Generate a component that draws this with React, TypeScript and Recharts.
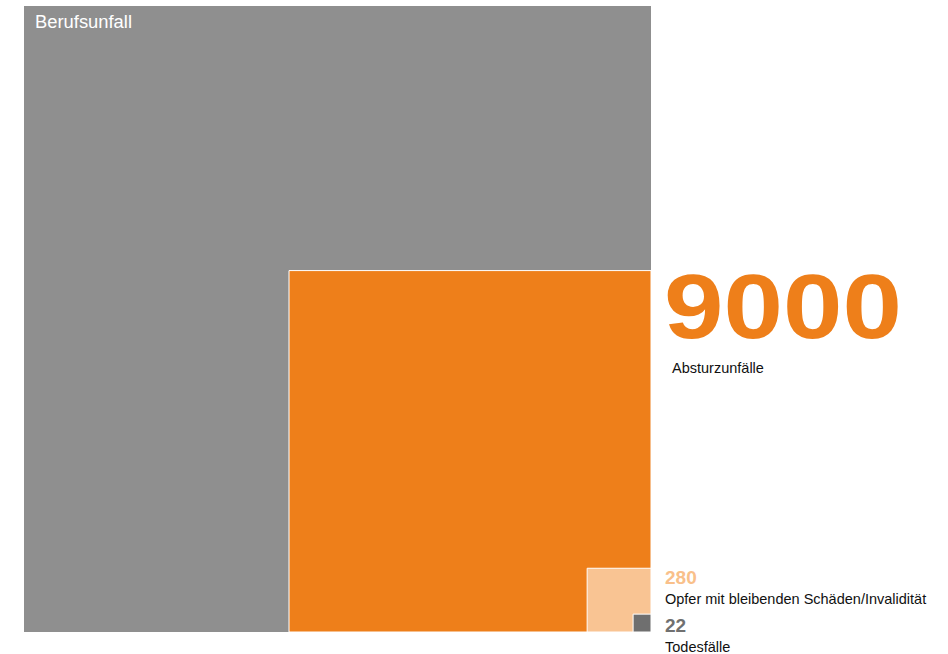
import React from 'react';
import { ComposedChart, XAxis, YAxis, ReferenceArea } from 'recharts';

// nested squares, area ~ count, anchored bottom-right
const categories = ['Berufsunfall', 'Absturzunfälle', 'Opfer mit bleibenden Schäden/Invalidität', 'Todesfälle'];
const values = [27000, 9000, 280, 22];
const valueLabels = ['', '9000', '280', '22'];

const fills = ['#8f8f8f', '#ee7f1a', '#f9c493', '#6f6f6f'];
const textColors = ['#ffffff', '#ee7f1a', '#f9c08a', '#707070'];

const FONT = '"Helvetica Neue", Helvetica, Arial, "Liberation Sans", sans-serif';
const side = values.map((v) => Math.sqrt(v));
const S = side[0];

const SquareLabel = (props: any) => {
  const { viewBox, index } = props;
  if (!viewBox) return null;
  const { x, y, width } = viewBox;
  if (index === 0) {
    return (
      <text x={x + 11} y={y + 22} fill="#fff" fontSize={17.5} fontFamily={FONT} textLength={97} lengthAdjust="spacingAndGlyphs">
        {categories[0]}
      </text>
    );
  }
  const right = x + width;
  if (index === 1) {
    return (
      <g>
        <text
          x={right + 13}
          y={y + 67}
          fill={textColors[1]}
          fontSize={90}
          fontWeight={700}
          fontFamily={FONT}
          textLength={238}
          lengthAdjust="spacingAndGlyphs"
        >
          {valueLabels[1]}
        </text>
        <text x={right + 21} y={y + 102} fill="#111" fontSize={14.5} fontFamily={FONT}>
          {categories[1]}
        </text>
      </g>
    );
  }
  const small = index === 3;
  return (
    <g>
      <text x={right + 14} y={y + (small ? 18 : 15.5)} fill={textColors[index]} fontSize={19} fontWeight={700} fontFamily={FONT}>
        {valueLabels[index]}
      </text>
      <text x={right + 14} y={y + (small ? 38 : 36)} fill="#111" fontSize={14.5} fontFamily={FONT}>
        {categories[index]}
      </text>
    </g>
  );
};

export default function App() {
  return (
    <div style={{ position: 'absolute', left: 0, top: 0 }}>
      <ComposedChart
        width={948}
        height={654}
        data={[{ x: 0, y: 0 }]}
        margin={{ top: 6, left: 24, right: 297, bottom: 22 }}
      >
        <XAxis type="number" dataKey="x" domain={[0, S]} hide allowDataOverflow />
        <YAxis type="number" dataKey="y" domain={[0, S]} hide allowDataOverflow />
        {values.map((v, i) => (
          <ReferenceArea
            key={categories[i]}
            x1={S - side[i]}
            x2={S}
            y1={0}
            y2={side[i]}
            fill={fills[i]}
            fillOpacity={1}
            stroke={i === 0 ? 'none' : '#ffffff'}
            strokeWidth={1}
            ifOverflow="visible"
            label={<SquareLabel index={i} />}
          />
        ))}
      </ComposedChart>
    </div>
  );
}
